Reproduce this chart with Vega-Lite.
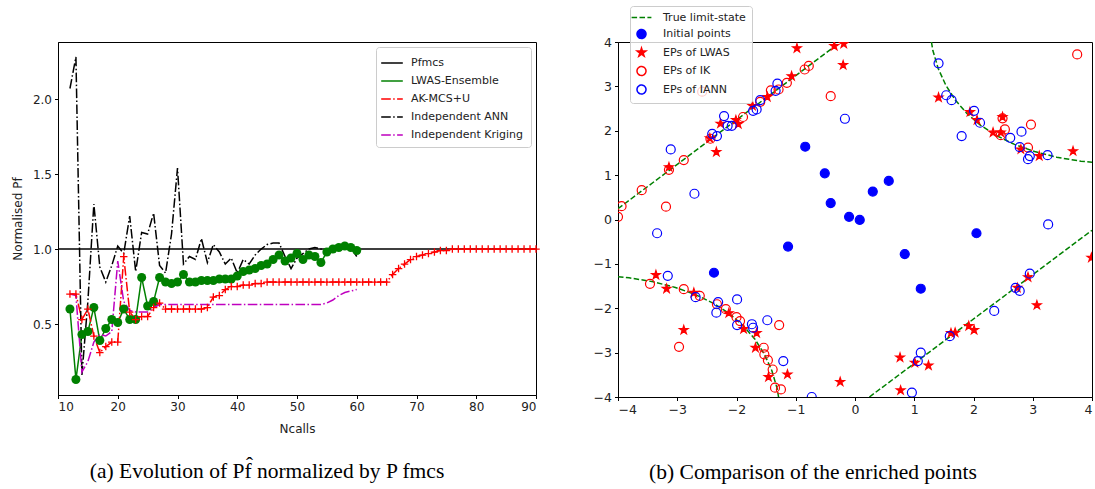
{
"$schema": "https://vega.github.io/schema/vega-lite/v6.json",
"background": "white",
"padding": {"left": 10, "top": 5, "right": 2, "bottom": 5},
"config": {
  "font": "DejaVu Sans",
  "view": {"stroke": "black", "strokeWidth": 1},
  "axis": {"grid": false, "domainColor": "black", "tickColor": "black", "tickSize": 3.5, "labelFontSize": 12, "labelColor": "#222", "titleFontSize": 12, "titleFontWeight": "normal", "titleColor": "#222", "labelPadding": 3, "labelFont": "DejaVu Sans", "titleFont": "DejaVu Sans"},
  "legend": {"labelFont": "DejaVu Sans", "labelFontSize": 11, "labelColor": "#222", "fillColor": "rgba(255,255,255,0.8)", "strokeColor": "#cccccc", "cornerRadius": 3, "padding": 6, "rowPadding": 3.5, "symbolStrokeWidth": 1.5, "title": null},
  "title": {"font": "Liberation Serif", "fontSize": 21.5, "fontWeight": "normal", "color": "black"}
},
"resolve": {"scale": {"x": "independent", "y": "independent", "stroke": "independent", "strokeDash": "independent", "fill": "independent", "shape": "independent", "color": "independent"}, "legend": {"stroke": "independent", "strokeDash": "independent", "fill": "independent", "shape": "independent"}},
"datasets": {
  "curves": [
    {"N":10,"v":1,"s":"Pfmcs"},{"N":90,"v":1,"s":"Pfmcs"},
    {"N":12,"v":0.60,"s":"LWAS-Ensemble"},{"N":13,"v":0.13,"s":"LWAS-Ensemble"},{"N":14,"v":0.43,"s":"LWAS-Ensemble"},{"N":15,"v":0.45,"s":"LWAS-Ensemble"},{"N":16,"v":0.61,"s":"LWAS-Ensemble"},{"N":17,"v":0.39,"s":"LWAS-Ensemble"},{"N":18,"v":0.47,"s":"LWAS-Ensemble"},{"N":19,"v":0.53,"s":"LWAS-Ensemble"},{"N":20,"v":0.51,"s":"LWAS-Ensemble"},{"N":21,"v":0.60,"s":"LWAS-Ensemble"},{"N":22,"v":0.53,"s":"LWAS-Ensemble"},{"N":23,"v":0.53,"s":"LWAS-Ensemble"},{"N":24,"v":0.81,"s":"LWAS-Ensemble"},{"N":25,"v":0.62,"s":"LWAS-Ensemble"},{"N":26,"v":0.65,"s":"LWAS-Ensemble"},{"N":27,"v":0.81,"s":"LWAS-Ensemble"},{"N":28,"v":0.78,"s":"LWAS-Ensemble"},{"N":29,"v":0.77,"s":"LWAS-Ensemble"},{"N":30,"v":0.78,"s":"LWAS-Ensemble"},{"N":31,"v":0.83,"s":"LWAS-Ensemble"},{"N":32,"v":0.78,"s":"LWAS-Ensemble"},{"N":33,"v":0.78,"s":"LWAS-Ensemble"},{"N":34,"v":0.79,"s":"LWAS-Ensemble"},{"N":35,"v":0.79,"s":"LWAS-Ensemble"},{"N":36,"v":0.79,"s":"LWAS-Ensemble"},{"N":37,"v":0.80,"s":"LWAS-Ensemble"},{"N":38,"v":0.80,"s":"LWAS-Ensemble"},{"N":39,"v":0.80,"s":"LWAS-Ensemble"},{"N":40,"v":0.82,"s":"LWAS-Ensemble"},{"N":41,"v":0.85,"s":"LWAS-Ensemble"},{"N":42,"v":0.86,"s":"LWAS-Ensemble"},{"N":43,"v":0.87,"s":"LWAS-Ensemble"},{"N":44,"v":0.89,"s":"LWAS-Ensemble"},{"N":45,"v":0.90,"s":"LWAS-Ensemble"},{"N":46,"v":0.93,"s":"LWAS-Ensemble"},{"N":47,"v":0.96,"s":"LWAS-Ensemble"},{"N":48,"v":0.92,"s":"LWAS-Ensemble"},{"N":49,"v":0.94,"s":"LWAS-Ensemble"},{"N":50,"v":0.97,"s":"LWAS-Ensemble"},{"N":51,"v":0.93,"s":"LWAS-Ensemble"},{"N":52,"v":0.96,"s":"LWAS-Ensemble"},{"N":53,"v":0.95,"s":"LWAS-Ensemble"},{"N":54,"v":0.91,"s":"LWAS-Ensemble"},{"N":55,"v":0.98,"s":"LWAS-Ensemble"},{"N":56,"v":1.00,"s":"LWAS-Ensemble"},{"N":57,"v":1.01,"s":"LWAS-Ensemble"},{"N":58,"v":1.02,"s":"LWAS-Ensemble"},{"N":59,"v":1.01,"s":"LWAS-Ensemble"},{"N":60,"v":0.99,"s":"LWAS-Ensemble"},
    {"N":12,"v":0.70,"s":"AK-MCS+U"},{"N":13,"v":0.70,"s":"AK-MCS+U"},{"N":14,"v":0.53,"s":"AK-MCS+U"},{"N":15,"v":0.60,"s":"AK-MCS+U"},{"N":16,"v":0.42,"s":"AK-MCS+U"},{"N":17,"v":0.31,"s":"AK-MCS+U"},{"N":18,"v":0.35,"s":"AK-MCS+U"},{"N":19,"v":0.38,"s":"AK-MCS+U"},{"N":20,"v":0.38,"s":"AK-MCS+U"},{"N":21,"v":0.95,"s":"AK-MCS+U"},{"N":22,"v":0.58,"s":"AK-MCS+U"},{"N":23,"v":0.53,"s":"AK-MCS+U"},{"N":24,"v":0.55,"s":"AK-MCS+U"},{"N":25,"v":0.55,"s":"AK-MCS+U"},{"N":26,"v":0.61,"s":"AK-MCS+U"},{"N":27,"v":0.64,"s":"AK-MCS+U"},{"N":28,"v":0.60,"s":"AK-MCS+U"},{"N":29,"v":0.60,"s":"AK-MCS+U"},{"N":30,"v":0.60,"s":"AK-MCS+U"},{"N":31,"v":0.60,"s":"AK-MCS+U"},{"N":32,"v":0.60,"s":"AK-MCS+U"},{"N":33,"v":0.60,"s":"AK-MCS+U"},{"N":34,"v":0.60,"s":"AK-MCS+U"},{"N":35,"v":0.61,"s":"AK-MCS+U"},{"N":36,"v":0.68,"s":"AK-MCS+U"},{"N":37,"v":0.69,"s":"AK-MCS+U"},{"N":38,"v":0.73,"s":"AK-MCS+U"},{"N":39,"v":0.75,"s":"AK-MCS+U"},{"N":40,"v":0.75,"s":"AK-MCS+U"},{"N":41,"v":0.76,"s":"AK-MCS+U"},{"N":42,"v":0.76,"s":"AK-MCS+U"},{"N":43,"v":0.77,"s":"AK-MCS+U"},{"N":44,"v":0.77,"s":"AK-MCS+U"},{"N":45,"v":0.78,"s":"AK-MCS+U"},{"N":46,"v":0.78,"s":"AK-MCS+U"},{"N":47,"v":0.78,"s":"AK-MCS+U"},{"N":48,"v":0.78,"s":"AK-MCS+U"},{"N":49,"v":0.78,"s":"AK-MCS+U"},{"N":50,"v":0.78,"s":"AK-MCS+U"},{"N":51,"v":0.78,"s":"AK-MCS+U"},{"N":52,"v":0.78,"s":"AK-MCS+U"},{"N":53,"v":0.78,"s":"AK-MCS+U"},{"N":54,"v":0.78,"s":"AK-MCS+U"},{"N":55,"v":0.78,"s":"AK-MCS+U"},{"N":56,"v":0.78,"s":"AK-MCS+U"},{"N":57,"v":0.78,"s":"AK-MCS+U"},{"N":58,"v":0.78,"s":"AK-MCS+U"},{"N":59,"v":0.78,"s":"AK-MCS+U"},{"N":60,"v":0.78,"s":"AK-MCS+U"},{"N":61,"v":0.78,"s":"AK-MCS+U"},{"N":62,"v":0.78,"s":"AK-MCS+U"},{"N":63,"v":0.78,"s":"AK-MCS+U"},{"N":64,"v":0.78,"s":"AK-MCS+U"},{"N":65,"v":0.78,"s":"AK-MCS+U"},{"N":66,"v":0.83,"s":"AK-MCS+U"},{"N":67,"v":0.87,"s":"AK-MCS+U"},{"N":68,"v":0.90,"s":"AK-MCS+U"},{"N":69,"v":0.93,"s":"AK-MCS+U"},{"N":70,"v":0.95,"s":"AK-MCS+U"},{"N":71,"v":0.96,"s":"AK-MCS+U"},{"N":72,"v":0.97,"s":"AK-MCS+U"},{"N":73,"v":0.98,"s":"AK-MCS+U"},{"N":74,"v":0.99,"s":"AK-MCS+U"},{"N":75,"v":0.99,"s":"AK-MCS+U"},{"N":76,"v":1.0,"s":"AK-MCS+U"},{"N":77,"v":1.0,"s":"AK-MCS+U"},{"N":78,"v":1.0,"s":"AK-MCS+U"},{"N":79,"v":1.0,"s":"AK-MCS+U"},{"N":80,"v":1.0,"s":"AK-MCS+U"},{"N":81,"v":1.0,"s":"AK-MCS+U"},{"N":82,"v":1.0,"s":"AK-MCS+U"},{"N":83,"v":1.0,"s":"AK-MCS+U"},{"N":84,"v":1.0,"s":"AK-MCS+U"},{"N":85,"v":1.0,"s":"AK-MCS+U"},{"N":86,"v":1.0,"s":"AK-MCS+U"},{"N":87,"v":1.0,"s":"AK-MCS+U"},{"N":88,"v":1.0,"s":"AK-MCS+U"},{"N":89,"v":1.0,"s":"AK-MCS+U"},{"N":90,"v":1.0,"s":"AK-MCS+U"},
    {"N":12,"v":2.07,"s":"Independent ANN"},{"N":13,"v":2.28,"s":"Independent ANN"},{"N":14,"v":0.16,"s":"Independent ANN"},{"N":15,"v":0.65,"s":"Independent ANN"},{"N":16,"v":1.30,"s":"Independent ANN"},{"N":17,"v":0.88,"s":"Independent ANN"},{"N":18,"v":0.78,"s":"Independent ANN"},{"N":19,"v":0.89,"s":"Independent ANN"},{"N":20,"v":1.02,"s":"Independent ANN"},{"N":21,"v":0.97,"s":"Independent ANN"},{"N":22,"v":1.22,"s":"Independent ANN"},{"N":23,"v":0.85,"s":"Independent ANN"},{"N":24,"v":1.11,"s":"Independent ANN"},{"N":25,"v":1.10,"s":"Independent ANN"},{"N":26,"v":1.24,"s":"Independent ANN"},{"N":27,"v":0.89,"s":"Independent ANN"},{"N":28,"v":0.84,"s":"Independent ANN"},{"N":29,"v":1.10,"s":"Independent ANN"},{"N":30,"v":1.54,"s":"Independent ANN"},{"N":31,"v":0.90,"s":"Independent ANN"},{"N":32,"v":0.95,"s":"Independent ANN"},{"N":33,"v":0.93,"s":"Independent ANN"},{"N":34,"v":1.07,"s":"Independent ANN"},{"N":35,"v":0.91,"s":"Independent ANN"},{"N":36,"v":1.03,"s":"Independent ANN"},{"N":37,"v":0.98,"s":"Independent ANN"},{"N":38,"v":0.90,"s":"Independent ANN"},{"N":39,"v":0.94,"s":"Independent ANN"},{"N":40,"v":0.84,"s":"Independent ANN"},{"N":41,"v":0.93,"s":"Independent ANN"},{"N":42,"v":0.90,"s":"Independent ANN"},{"N":43,"v":0.96,"s":"Independent ANN"},{"N":44,"v":1.00,"s":"Independent ANN"},{"N":45,"v":1.03,"s":"Independent ANN"},{"N":46,"v":1.04,"s":"Independent ANN"},{"N":47,"v":1.04,"s":"Independent ANN"},{"N":48,"v":0.95,"s":"Independent ANN"},{"N":49,"v":0.87,"s":"Independent ANN"},{"N":50,"v":0.94,"s":"Independent ANN"},{"N":51,"v":0.97,"s":"Independent ANN"},{"N":52,"v":1.00,"s":"Independent ANN"},{"N":53,"v":1.01,"s":"Independent ANN"},{"N":54,"v":1.00,"s":"Independent ANN"},{"N":55,"v":0.99,"s":"Independent ANN"},{"N":56,"v":1.01,"s":"Independent ANN"},{"N":57,"v":1.02,"s":"Independent ANN"},{"N":58,"v":1.02,"s":"Independent ANN"},{"N":59,"v":1.01,"s":"Independent ANN"},{"N":60,"v":0.95,"s":"Independent ANN"},
    {"N":12,"v":0.70,"s":"Independent Kriging"},{"N":13,"v":0.69,"s":"Independent Kriging"},{"N":14,"v":0.18,"s":"Independent Kriging"},{"N":15,"v":0.25,"s":"Independent Kriging"},{"N":16,"v":0.38,"s":"Independent Kriging"},{"N":17,"v":0.43,"s":"Independent Kriging"},{"N":18,"v":0.42,"s":"Independent Kriging"},{"N":19,"v":0.45,"s":"Independent Kriging"},{"N":20,"v":0.92,"s":"Independent Kriging"},{"N":21,"v":0.65,"s":"Independent Kriging"},{"N":22,"v":0.59,"s":"Independent Kriging"},{"N":23,"v":0.58,"s":"Independent Kriging"},{"N":24,"v":0.58,"s":"Independent Kriging"},{"N":25,"v":0.58,"s":"Independent Kriging"},{"N":26,"v":0.61,"s":"Independent Kriging"},{"N":27,"v":0.63,"s":"Independent Kriging"},{"N":35,"v":0.63,"s":"Independent Kriging"},{"N":45,"v":0.63,"s":"Independent Kriging"},{"N":54,"v":0.63,"s":"Independent Kriging"},{"N":55,"v":0.64,"s":"Independent Kriging"},{"N":56,"v":0.66,"s":"Independent Kriging"},{"N":57,"v":0.69,"s":"Independent Kriging"},{"N":58,"v":0.71,"s":"Independent Kriging"},{"N":59,"v":0.72,"s":"Independent Kriging"},{"N":60,"v":0.73,"s":"Independent Kriging"}
  ],
  "pts": [
    {"x":-0.84,"y":1.64,"t":"Initial points"},{"x":-0.51,"y":1.04,"t":"Initial points"},{"x":-0.41,"y":0.37,"t":"Initial points"},{"x":-0.10,"y":0.06,"t":"Initial points"},{"x":0.08,"y":-0.01,"t":"Initial points"},{"x":0.30,"y":0.63,"t":"Initial points"},{"x":0.57,"y":0.87,"t":"Initial points"},{"x":2.05,"y":-0.31,"t":"Initial points"},{"x":-1.13,"y":-0.61,"t":"Initial points"},{"x":-2.38,"y":-1.20,"t":"Initial points"},{"x":0.84,"y":-0.78,"t":"Initial points"},{"x":1.11,"y":-1.56,"t":"Initial points"},
    {"x":-0.98,"y":3.86,"t":"EPs of LWAS"},{"x":-0.35,"y":3.91,"t":"EPs of LWAS"},{"x":-0.19,"y":3.96,"t":"EPs of LWAS"},{"x":-0.20,"y":3.48,"t":"EPs of LWAS"},{"x":-1.07,"y":3.23,"t":"EPs of LWAS"},{"x":-1.73,"y":2.56,"t":"EPs of LWAS"},{"x":-1.48,"y":2.76,"t":"EPs of LWAS"},{"x":-2.01,"y":2.24,"t":"EPs of LWAS"},{"x":-1.97,"y":2.15,"t":"EPs of LWAS"},{"x":-2.27,"y":2.16,"t":"EPs of LWAS"},{"x":-2.45,"y":1.83,"t":"EPs of LWAS"},{"x":-2.34,"y":1.52,"t":"EPs of LWAS"},{"x":-3.14,"y":1.18,"t":"EPs of LWAS"},
    {"x":1.41,"y":2.75,"t":"EPs of LWAS"},{"x":1.94,"y":2.42,"t":"EPs of LWAS"},{"x":2.06,"y":2.24,"t":"EPs of LWAS"},{"x":2.49,"y":2.31,"t":"EPs of LWAS"},{"x":2.33,"y":1.96,"t":"EPs of LWAS"},{"x":2.46,"y":1.96,"t":"EPs of LWAS"},{"x":2.80,"y":1.58,"t":"EPs of LWAS"},{"x":3.11,"y":1.43,"t":"EPs of LWAS"},{"x":3.68,"y":1.54,"t":"EPs of LWAS"},
    {"x":-3.36,"y":-1.25,"t":"EPs of LWAS"},{"x":-3.18,"y":-1.56,"t":"EPs of LWAS"},{"x":-2.72,"y":-1.65,"t":"EPs of LWAS"},{"x":-2.89,"y":-2.49,"t":"EPs of LWAS"},{"x":-2.13,"y":-2.11,"t":"EPs of LWAS"},{"x":-1.88,"y":-2.47,"t":"EPs of LWAS"},{"x":-1.66,"y":-2.56,"t":"EPs of LWAS"},{"x":-1.68,"y":-2.89,"t":"EPs of LWAS"},{"x":-1.46,"y":-3.55,"t":"EPs of LWAS"},{"x":-1.14,"y":-3.49,"t":"EPs of LWAS"},{"x":-0.25,"y":-3.66,"t":"EPs of LWAS"},
    {"x":0.76,"y":-3.11,"t":"EPs of LWAS"},{"x":1.01,"y":-3.23,"t":"EPs of LWAS"},{"x":1.24,"y":-3.29,"t":"EPs of LWAS"},{"x":0.77,"y":-3.85,"t":"EPs of LWAS"},{"x":1.62,"y":-2.56,"t":"EPs of LWAS"},{"x":1.69,"y":-2.55,"t":"EPs of LWAS"},{"x":1.92,"y":-2.40,"t":"EPs of LWAS"},{"x":2.01,"y":-2.49,"t":"EPs of LWAS"},{"x":2.74,"y":-1.54,"t":"EPs of LWAS"},{"x":2.92,"y":-1.30,"t":"EPs of LWAS"},{"x":3.07,"y":-1.93,"t":"EPs of LWAS"},{"x":3.99,"y":-0.86,"t":"EPs of LWAS"},
    {"x":-0.78,"y":3.46,"t":"EPs of IK"},{"x":-0.85,"y":3.38,"t":"EPs of IK"},{"x":-1.15,"y":3.08,"t":"EPs of IK"},{"x":-1.42,"y":2.91,"t":"EPs of IK"},{"x":-1.29,"y":2.93,"t":"EPs of IK"},{"x":-0.41,"y":2.78,"t":"EPs of IK"},{"x":-1.60,"y":2.65,"t":"EPs of IK"},{"x":-1.89,"y":2.31,"t":"EPs of IK"},{"x":-2.44,"y":1.82,"t":"EPs of IK"},{"x":-2.58,"y":2.88,"t":"EPs of IK"},{"x":-2.89,"y":1.34,"t":"EPs of IK"},{"x":-3.14,"y":1.12,"t":"EPs of IK"},{"x":-3.60,"y":0.66,"t":"EPs of IK"},{"x":-3.94,"y":0.30,"t":"EPs of IK"},{"x":-3.19,"y":0.29,"t":"EPs of IK"},{"x":-4.0,"y":0.06,"t":"EPs of IK"},
    {"x":3.75,"y":3.72,"t":"EPs of IK"},{"x":2.49,"y":2.28,"t":"EPs of IK"},{"x":2.97,"y":2.14,"t":"EPs of IK"},{"x":2.53,"y":2.03,"t":"EPs of IK"},{"x":2.46,"y":1.90,"t":"EPs of IK"},{"x":2.92,"y":1.62,"t":"EPs of IK"},
    {"x":-3.46,"y":-1.45,"t":"EPs of IK"},{"x":-2.89,"y":-1.57,"t":"EPs of IK"},{"x":-2.62,"y":-1.72,"t":"EPs of IK"},{"x":-2.33,"y":-1.91,"t":"EPs of IK"},{"x":-2.18,"y":-2.02,"t":"EPs of IK"},{"x":-2.00,"y":-2.20,"t":"EPs of IK"},{"x":-1.94,"y":-2.29,"t":"EPs of IK"},{"x":-2.97,"y":-2.87,"t":"EPs of IK"},{"x":-1.28,"y":-2.38,"t":"EPs of IK"},{"x":-1.54,"y":-2.89,"t":"EPs of IK"},{"x":-1.53,"y":-3.04,"t":"EPs of IK"},{"x":-1.47,"y":-3.17,"t":"EPs of IK"},{"x":-1.39,"y":-3.38,"t":"EPs of IK"},{"x":-1.35,"y":-3.79,"t":"EPs of IK"},{"x":-1.25,"y":-3.83,"t":"EPs of IK"},
    {"x":-1.31,"y":3.06,"t":"EPs of IANN"},{"x":-1.34,"y":2.90,"t":"EPs of IANN"},{"x":-1.60,"y":2.69,"t":"EPs of IANN"},{"x":-1.66,"y":2.48,"t":"EPs of IANN"},{"x":-1.72,"y":2.45,"t":"EPs of IANN"},{"x":-2.21,"y":2.33,"t":"EPs of IANN"},{"x":-2.15,"y":2.11,"t":"EPs of IANN"},{"x":-2.08,"y":2.11,"t":"EPs of IANN"},{"x":-2.41,"y":1.93,"t":"EPs of IANN"},{"x":-2.33,"y":1.88,"t":"EPs of IANN"},{"x":-0.17,"y":2.27,"t":"EPs of IANN"},{"x":-3.11,"y":1.58,"t":"EPs of IANN"},{"x":-2.71,"y":0.58,"t":"EPs of IANN"},{"x":-3.34,"y":-0.31,"t":"EPs of IANN"},
    {"x":1.41,"y":3.52,"t":"EPs of IANN"},{"x":1.54,"y":2.80,"t":"EPs of IANN"},{"x":1.63,"y":2.69,"t":"EPs of IANN"},{"x":2.01,"y":2.45,"t":"EPs of IANN"},{"x":2.11,"y":2.18,"t":"EPs of IANN"},{"x":1.80,"y":1.88,"t":"EPs of IANN"},{"x":2.81,"y":1.98,"t":"EPs of IANN"},{"x":2.62,"y":1.84,"t":"EPs of IANN"},{"x":2.78,"y":1.63,"t":"EPs of IANN"},{"x":2.95,"y":1.43,"t":"EPs of IANN"},{"x":2.92,"y":1.36,"t":"EPs of IANN"},{"x":3.25,"y":1.45,"t":"EPs of IANN"},{"x":3.26,"y":-0.11,"t":"EPs of IANN"},
    {"x":-3.16,"y":-1.27,"t":"EPs of IANN"},{"x":-2.69,"y":-1.75,"t":"EPs of IANN"},{"x":-2.31,"y":-1.86,"t":"EPs of IANN"},{"x":-2.34,"y":-2.10,"t":"EPs of IANN"},{"x":-1.99,"y":-1.80,"t":"EPs of IANN"},{"x":-1.99,"y":-2.38,"t":"EPs of IANN"},{"x":-1.74,"y":-2.36,"t":"EPs of IANN"},{"x":-1.72,"y":-2.44,"t":"EPs of IANN"},{"x":-1.48,"y":-2.27,"t":"EPs of IANN"},{"x":-1.21,"y":-3.19,"t":"EPs of IANN"},{"x":-0.73,"y":-4.0,"t":"EPs of IANN"},
    {"x":2.95,"y":-1.22,"t":"EPs of IANN"},{"x":2.71,"y":-1.54,"t":"EPs of IANN"},{"x":2.78,"y":-1.61,"t":"EPs of IANN"},{"x":2.35,"y":-2.06,"t":"EPs of IANN"},{"x":1.60,"y":-2.63,"t":"EPs of IANN"},{"x":1.11,"y":-3.00,"t":"EPs of IANN"},{"x":1.06,"y":-3.19,"t":"EPs of IANN"},{"x":0.96,"y":-3.90,"t":"EPs of IANN"}
  ]
},
"spacing": 82,
"bounds": "flush",
"hconcat": [
  {
    "width": 478, "height": 353,
    "title": {"text": "(a)  Evolution of Pf\u0302 normalized by P fmcs", "orient": "bottom", "offset": 26, "dx": -30},
    "layer": [
      {
        "data": {"name": "curves"},
        "mark": {"type": "line", "strokeWidth": 1.5, "clip": true},
        "encoding": {
          "x": {"field": "N", "type": "quantitative", "scale": {"domain": [10, 90], "nice": false}, "axis": {"values": [10,20,30,40,50,60,70,80,90], "format": "d", "title": "Ncalls", "titlePadding": 11}},
          "y": {"field": "v", "type": "quantitative", "scale": {"domain": [0.027, 2.38], "nice": false, "zero": false}, "axis": {"values": [0.5,1,1.5,2], "format": ".1f", "title": "Normalised Pf", "titlePadding": 8}},
          "stroke": {"field": "s", "type": "nominal", "scale": {"domain": ["Pfmcs","LWAS-Ensemble","AK-MCS+U","Independent ANN","Independent Kriging"], "range": ["#000000","#008000","#ff0000","#000000","#bf00bf"]}, "legend": {"orient": "top-right", "offset": 5, "symbolType": "M-1.35,0H1.35", "symbolSize": 256, "labelOffset": 10, "rowPadding": 4, "padding": 7, "title": null}},
          "strokeDash": {"field": "s", "type": "nominal", "scale": {"domain": ["Pfmcs","LWAS-Ensemble","AK-MCS+U","Independent ANN","Independent Kriging"], "range": [[1,0],[1,0],[9.6,2.4,1.5,2.4],[9.6,2.4,1.5,2.4],[9.6,2.4,1.5,2.4]]}, "legend": {"orient": "top-right", "offset": 5, "symbolType": "M-1.35,0H1.35", "symbolSize": 256, "labelOffset": 10, "rowPadding": 4, "padding": 7, "title": null}}
        }
      },
      {
        "data": {"name": "curves"},
        "transform": [{"filter": "datum.s === 'LWAS-Ensemble'"}],
        "mark": {"type": "point", "filled": true, "size": 81, "color": "#008000", "opacity": 1},
        "encoding": {"x": {"field": "N", "type": "quantitative"}, "y": {"field": "v", "type": "quantitative"}}
      },
      {
        "data": {"name": "curves"},
        "transform": [{"filter": "datum.s === 'AK-MCS+U'"}],
        "mark": {"type": "point", "filled": false, "size": 56, "shape": "M-1,0H1M0,-1V1", "color": "#ff0000", "strokeWidth": 1.3, "opacity": 1},
        "encoding": {"x": {"field": "N", "type": "quantitative"}, "y": {"field": "v", "type": "quantitative"}}
      }
    ]
  },
  {
    "width": 474, "height": 355,
    "title": {"text": "(b)  Comparison of the enriched points", "orient": "bottom", "offset": 46, "dx": -42},
    "layer": [
      {
        "data": {"values": [
          {"x":-4,"y":0.243,"b":"b1","t":"True limit-state"},{"x":-0.243,"y":4,"b":"b1","t":"True limit-state"},
          {"x":1.29,"y":4.0,"b":"b2","t":"True limit-state"},{"x":1.313,"y":3.813,"b":"b2","t":"True limit-state"},{"x":1.404,"y":3.404,"b":"b2","t":"True limit-state"},{"x":1.531,"y":3.031,"b":"b2","t":"True limit-state"},{"x":1.692,"y":2.692,"b":"b2","t":"True limit-state"},{"x":1.889,"y":2.389,"b":"b2","t":"True limit-state"},{"x":2.121,"y":2.121,"b":"b2","t":"True limit-state"},{"x":2.389,"y":1.889,"b":"b2","t":"True limit-state"},{"x":2.692,"y":1.692,"b":"b2","t":"True limit-state"},{"x":3.031,"y":1.531,"b":"b2","t":"True limit-state"},{"x":3.404,"y":1.404,"b":"b2","t":"True limit-state"},{"x":3.813,"y":1.313,"b":"b2","t":"True limit-state"},{"x":4.0,"y":1.29,"b":"b2","t":"True limit-state"},
          {"x":-4.0,"y":-1.29,"b":"b3","t":"True limit-state"},{"x":-3.813,"y":-1.313,"b":"b3","t":"True limit-state"},{"x":-3.404,"y":-1.404,"b":"b3","t":"True limit-state"},{"x":-3.031,"y":-1.531,"b":"b3","t":"True limit-state"},{"x":-2.692,"y":-1.692,"b":"b3","t":"True limit-state"},{"x":-2.389,"y":-1.889,"b":"b3","t":"True limit-state"},{"x":-2.121,"y":-2.121,"b":"b3","t":"True limit-state"},{"x":-1.889,"y":-2.389,"b":"b3","t":"True limit-state"},{"x":-1.692,"y":-2.692,"b":"b3","t":"True limit-state"},{"x":-1.531,"y":-3.031,"b":"b3","t":"True limit-state"},{"x":-1.404,"y":-3.404,"b":"b3","t":"True limit-state"},{"x":-1.313,"y":-3.813,"b":"b3","t":"True limit-state"},{"x":-1.29,"y":-4.0,"b":"b3","t":"True limit-state"},
          {"x":0.243,"y":-4,"b":"b4","t":"True limit-state"},{"x":4,"y":-0.243,"b":"b4","t":"True limit-state"}
        ]},
        "mark": {"type": "line", "strokeWidth": 1.5, "clip": true},
        "encoding": {
          "x": {"field": "x", "type": "quantitative", "scale": {"domain": [-4, 4], "nice": false}, "axis": {"values": [-4,-3,-2,-1,0,1,2,3,4], "format": "d", "title": null, "labelFontSize": 12.5}},
          "y": {"field": "y", "type": "quantitative", "scale": {"domain": [-4, 4], "nice": false}, "axis": {"values": [-4,-3,-2,-1,0,1,2,3,4], "format": "d", "title": null, "labelFontSize": 12.5}},
          "detail": {"field": "b", "type": "nominal"},
          "stroke": {"field": "t", "type": "nominal", "scale": {"domain": ["True limit-state","Initial points","EPs of LWAS","EPs of IK","EPs of IANN"], "range": ["#008000","#0000ff","#ff0000","#ff0000","#0000ff"]}, "legend": {"orient": "none", "legendX": 12, "legendY": -36, "symbolSize": 81, "labelOffset": 16, "title": null}},
          "strokeDash": {"field": "t", "type": "nominal", "scale": {"domain": ["True limit-state","Initial points","EPs of LWAS","EPs of IK","EPs of IANN"], "range": [[5.5,2.4],[1,0],[1,0],[1,0],[1,0]]}, "legend": {"orient": "none", "legendX": 12, "legendY": -36, "symbolSize": 81, "labelOffset": 16, "title": null}}
        }
      },
      {
        "data": {"name": "pts"},
        "mark": {"type": "point", "size": 81, "strokeWidth": 1.2, "opacity": 1, "clip": true},
        "encoding": {
          "x": {"field": "x", "type": "quantitative"},
          "y": {"field": "y", "type": "quantitative"},
          "stroke": {"field": "t", "type": "nominal"},
          "fill": {"field": "t", "type": "nominal", "scale": {"domain": ["True limit-state","Initial points","EPs of LWAS","EPs of IK","EPs of IANN"], "range": ["transparent","#0000ff","#ff0000","transparent","transparent"]}, "legend": {"orient": "none", "legendX": 12, "legendY": -36, "symbolSize": 81, "labelOffset": 16, "title": null}},
          "shape": {"field": "t", "type": "nominal", "scale": {"domain": ["True limit-state","Initial points","EPs of LWAS","EPs of IK","EPs of IANN"], "range": ["M-2.2,0H2.2","circle","M0,-1L0.2245,-0.309L0.951,-0.309L0.363,0.118L0.588,0.809L0,0.382L-0.588,0.809L-0.363,0.118L-0.951,-0.309L-0.2245,-0.309Z","circle","circle"]}, "legend": {"orient": "none", "legendX": 12, "legendY": -36, "symbolSize": 81, "labelOffset": 16, "title": null}}
        }
      }
    ]
  }
]
}
